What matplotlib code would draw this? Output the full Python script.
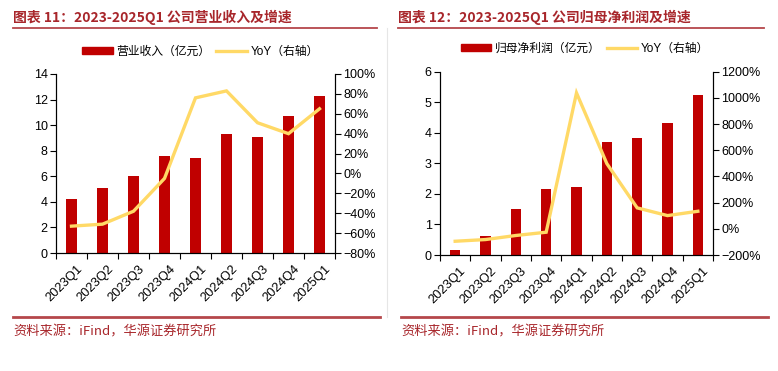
import numpy as np
import matplotlib
matplotlib.use('Agg')
import matplotlib.pyplot as plt
from matplotlib.lines import Line2D
from matplotlib.patches import Patch
from matplotlib.ticker import FuncFormatter, FixedLocator

plt.rcParams['font.family'] = ['Liberation Sans', 'Noto Sans CJK SC']
plt.rcParams['axes.unicode_minus'] = True

# 数据
季度 = ['2023Q1', '2023Q2', '2023Q3', '2023Q4', '2024Q1', '2024Q2', '2024Q3', '2024Q4', '2025Q1']
营收 = [4.2, 5.1, 6.0, 7.6, 7.4, 9.3, 9.1, 10.7, 12.3]
营收yoy = [-53, -51, -38, -5, 76, 83, 51, 40, 65]
净利润 = [0.17, 0.61, 1.50, 2.17, 2.22, 3.69, 3.84, 4.33, 5.23]
净利润yoy = [-95, -82, -51, -26, 1038, 498, 160, 101, 134]

红 = '#C00000'
黄 = '#FFD966'
标题色 = '#A8262B'


def pct(v, pos):
    return f'{v:.0f}%'.replace('-', '\u2212')


def 画图(fig, rect, bars, yoy, bar_label, ylim, yticks, y2lim, y2ticks, leg_x):
    ax = fig.add_axes(rect)
    x = np.arange(len(季度))
    ax.bar(x, bars, width=0.33, color=红, zorder=2)
    ax.set_xlim(-0.5, len(季度) - 0.5)
    ax.set_ylim(*ylim)
    ax.set_yticks(yticks)
    ax.xaxis.set_major_locator(FixedLocator(np.arange(-0.5, len(季度), 1.0)))
    ax.xaxis.set_major_formatter(plt.NullFormatter())
    ax.xaxis.set_minor_locator(FixedLocator(x + 0.15))
    ax.set_xticklabels(季度, minor=True, rotation=45, ha='right', rotation_mode='anchor')
    ax.tick_params(axis='x', which='minor', length=0, pad=7, labelsize=9.3)
    ax.tick_params(axis='x', which='major', length=4, width=0.8, direction='out')
    ax.tick_params(axis='y', length=4, width=0.8, labelsize=9, pad=2)
    ax.spines['top'].set_visible(False)

    ax2 = ax.twinx()
    ax2.plot(x, yoy, color=黄, lw=2.4, solid_joinstyle='miter', zorder=3)
    ax2.set_ylim(*y2lim)
    ax2.set_yticks(y2ticks)
    ax2.yaxis.set_major_formatter(FuncFormatter(pct))
    ax2.tick_params(axis='y', length=4, width=0.8, labelsize=9, pad=2)
    ax2.spines['top'].set_visible(False)
    for s in ['left', 'right', 'bottom']:
        ax.spines[s].set_linewidth(0.8)
        ax2.spines[s].set_linewidth(0.8)

    handles = [Patch(color=红), Line2D([0], [0], color=黄, lw=2.4)]
    ax.legend(handles, [bar_label, 'YoY（右轴）'], loc='center', bbox_to_anchor=(leg_x, 1.125),
              ncol=2, frameon=False, fontsize=8.5, handlelength=2.6, handleheight=0.55,
              handletextpad=0.3, columnspacing=0.5)
    return ax, ax2


fig = plt.figure(figsize=(7.78, 3.71), dpi=100)

画图(fig, [56 / 778, 1 - 253 / 371, 279 / 778, 179 / 371], 营收, 营收yoy, '营业收入（亿元）',
    (0, 14), range(0, 15, 2), (-80, 100), range(-80, 101, 20), 0.518)
画图(fig, [440 / 778, 1 - 255 / 371, 273 / 778, 183.3 / 371], 净利润, 净利润yoy, '归母净利润（亿元）',
    (0, 6), range(0, 7, 1), (-200, 1200), range(-200, 1201, 200), 0.531)

# 标题、分隔线、来源
for x0, txt in [(13, '图表 11：2023-2025Q1 公司营业收入及增速'), (398, '图表 12：2023-2025Q1 公司归母净利润及增速')]:
    fig.text(x0 / 778, 1 - 17 / 371, txt, color=标题色, fontsize=10, fontweight='bold',
             va='center', ha='left', family=['Noto Sans CJK SC', 'DejaVu Sans'])
for x0, x1 in [(13, 377), (398, 764)]:
    fig.add_artist(Line2D([x0 / 778, x1 / 778], [1 - 27.5 / 371] * 2, color='#B5474B', lw=1.3))
for x0, x1 in [(13, 380), (401, 768)]:
    fig.add_artist(Line2D([x0 / 778, x1 / 778], [1 - 317 / 371] * 2, color='#B5474B', lw=2))
    fig.text(x0 / 778, 1 - 332 / 371, '资料来源：iFind，华源证券研究所', color=标题色, fontsize=9.5,
             va='center', ha='left', family=['Noto Sans CJK SC', 'DejaVu Sans'])
fig.add_artist(Line2D([387 / 778] * 2, [1 - 28 / 371, 1 - 317 / 371], color='#E6E6E6', lw=0.8))

fig.savefig('out.png', dpi=100)
